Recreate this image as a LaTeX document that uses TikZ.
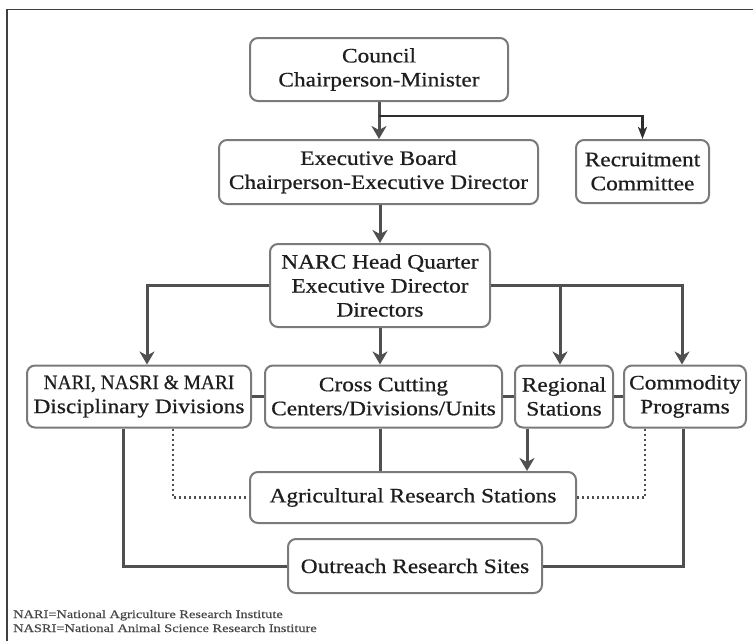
\documentclass[tikz,border=0pt]{standalone}
\usepackage{graphicx}
\usepackage{fontspec}
\setmainfont[FakeStretch=1.14,FakeBold=0.6]{Liberation Serif}
\newfontfamily\notefont[FakeStretch=1.25,FakeBold=0.4]{Liberation Serif}
\usetikzlibrary{arrows.meta}
\definecolor{boxgray}{HTML}{7A7A7A}
\definecolor{linegray}{HTML}{505050}
\definecolor{darkline}{HTML}{2E2E2E}
\definecolor{framecol}{HTML}{404040}
\definecolor{txt}{HTML}{1E1E1E}
\begin{document}
\begin{tikzpicture}[x=1pt,y=-1pt,
  box/.style={draw=boxgray, line width=2pt, rounded corners=8pt, fill=white,
    align=center, inner sep=0pt, text=txt, font=\fontsize{20.5}{24}\selectfont},
  conn/.style={draw=linegray, line width=3pt},
  arr/.style={conn, -{Stealth[length=13pt,width=15pt,inset=4pt]}},
  darkarr/.style={draw=darkline, line width=2.6pt, -{Stealth[length=12pt,width=9pt,inset=3pt]}},
  dotline/.style={draw=linegray, line width=2.2pt, dash pattern=on 2pt off 3pt},
  note/.style={anchor=base west, inner sep=0pt, text=black!72, font=\notefont\fontsize{11.5}{14}\selectfont}]
\useasboundingbox (0,0) rectangle (753,641);
\fill[white] (0,0) rectangle (753,641);
\draw[framecol, line width=1.8pt] (753,9.5) -- (7,9.5) -- (7,641);

% nodes
\node[box, minimum width=258pt, minimum height=63pt] (council) at (379,69.5) {Council\\Chairperson-Minister};
\node[box, minimum width=319pt, minimum height=64pt] (exec) at (378.5,172) {Executive Board\\Chairperson-Executive Director};
\node[box, minimum width=133pt, minimum height=63pt] (recruit) at (642.5,171.5) {Recruitment\\Committee};
\node[box, minimum width=220pt, minimum height=83pt] (narc) at (380,285.5) {NARC Head Quarter\\Executive Director\\Directors};
\node[box, minimum width=224pt, minimum height=62pt] (nari) at (139,396.5) {\scalebox{0.83}[1]{NARI, NASRI \& MARI}\\Disciplinary Divisions};
\node[box, minimum width=237pt, minimum height=62pt] (cross) at (383.5,396.5) {Cross Cutting\\Centers/Divisions/Units};
\node[box, minimum width=98pt, minimum height=62pt] (reg) at (564,396.5) {Regional\\Stations};
\node[box, minimum width=122pt, minimum height=62pt] (com) at (685,396.5) {Commodity\\Programs};
\node[box, minimum width=326pt, minimum height=51pt] (ars) at (413,497.5) {Agricultural Research Stations};
\node[box, minimum width=254pt, minimum height=54pt] (ors) at (415,566) {Outreach Research Sites};

\node[note] (note1) at (13,618) {NARI=National Agriculture Research Institute};
\node[note] (note2) at (13,632) {NASRI=National Animal Science Research Institure};

% connectors
\coordinate (split) at (379,116);
\draw[arr] (council.south) -- (exec.north -| council.south);
\draw[darkarr] (split) -| (recruit.north);
\draw[arr] (exec.south -| narc.north) -- (narc.north);
\draw[arr] (narc.west) -| ([xshift=8pt]nari.north);
\draw[arr] (narc.south) -- (narc.south |- cross.north);
\draw[arr] (narc.east) -| ([xshift=-4pt]reg.north);
\draw[arr] (narc.east) -| ([xshift=-3pt]com.north);

\draw[conn] (nari.east) -- (cross.west);
\draw[conn] (cross.east) -- (reg.west);
\draw[conn] (reg.east) -- (com.west);

\draw[conn] (cross.south -| narc.south) -- (narc.south |- ars.north);
\draw[arr] ([xshift=-37pt]reg.south) -- ([xshift=-37pt]reg.south |- ars.north);
\draw[dotline] ([xshift=34pt]nari.south) |- (ars.west);
\draw[dotline] ([xshift=-40pt]com.south) |- (ars.east);
\draw[conn] ([xshift=-16pt]nari.south) |- (ors.west);
\draw[conn] ([xshift=-2pt]com.south) |- (ors.east);
\end{tikzpicture}
\end{document}
